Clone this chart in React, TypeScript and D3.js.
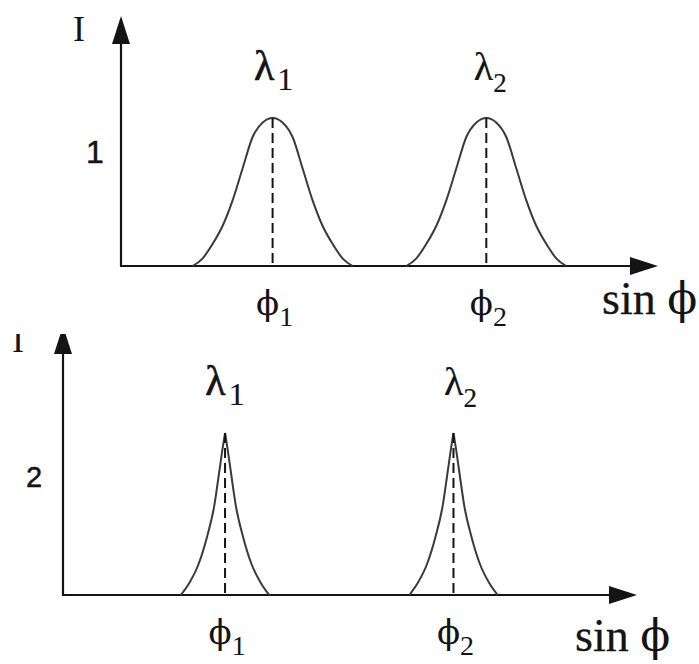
import React from "react";
import * as d3 from "d3";

const W = 699;
const H = 664;

// Spectral lines λ1, λ2 and their diffraction directions φ1, φ2 on the sin φ axis (arbitrary units)
const lineIndex = ["1", "2"];
const sinPhi = [0.415, 1.0];
const sinPhiMax = 1.47;

// Peak intensity of each panel and the label written on its intensity axis
const peakIntensity = [1, 2];
const intensityLabels = ["1", "2"];

// Left flank of a peak: [offset from line centre in sin φ units, fraction of peak intensity]
const broadFlank: [number, number][] = [
  [-0.219, 0.0],
  [-0.192, 0.05],
  [-0.164, 0.15],
  [-0.137, 0.27],
  [-0.11, 0.44],
  [-0.082, 0.66],
  [-0.055, 0.87],
  [-0.027, 0.97],
  [0, 1],
];
const narrowFlank: [number, number][] = [
  [-0.113, 0.0],
  [-0.092, 0.072],
  [-0.067, 0.196],
  [-0.046, 0.36],
  [-0.028, 0.546],
  [-0.0153, 0.753],
  [-0.0068, 0.897],
  [0, 1],
];
const flanks = [broadFlank, narrowFlank];

// Panel geometry
const panels = [
  {
    x0: 121, x1: 658, y0: 266, yTip: 16, yPeak: 118, clipTop: 0,
    axisLabel: { x: 79, y: 41 }, tickLabel: { x: 95, y: 163 },
    titleDx: [1, 4], sinLabel: { x: 602, y: 314 }, smoothTop: true,
  },
  {
    x0: 63, x1: 637, y0: 595, yTip: 326, yPeak: 433, clipTop: 334,
    axisLabel: { x: 18, y: 352 }, tickLabel: { x: 34, y: 487 },
    titleDx: [0, 7], sinLabel: { x: 575, y: 651 }, smoothTop: false,
  },
];

const SERIF = "'Liberation Serif', 'Times New Roman', serif";
const GREEK = "'DejaVu Serif', 'Liberation Serif', serif";
const SANS = "'Liberation Sans', Arial, sans-serif";
const INK = "#141414";
const CURVE = "#3a3a3a";
const PHI = "\u03d5";

function Panel({ idx }: { idx: number }) {
  const p = panels[idx];
  const x = d3.scaleLinear().domain([0, sinPhiMax]).range([p.x0, p.x1]);
  const y = d3.scaleLinear().domain([0, peakIntensity[idx]]).range([p.y0, p.yPeak]);
  const flank = flanks[idx];
  const peak = peakIntensity[idx];

  const line = d3
    .line<[number, number]>()
    .x((d) => x(d[0]))
    .y((d) => y(d[1] * peak))
    .curve(d3.curveMonotoneX);

  const clipId = `clip-${idx}`;
  const ah = 28; // arrowhead length
  const aw = 9; // arrowhead half width

  return (
    <g clipPath={p.clipTop ? `url(#${clipId})` : undefined}>
      {p.clipTop ? (
        <defs>
          <clipPath id={clipId}>
            <rect x={0} y={p.clipTop} width={W} height={H - p.clipTop} />
          </clipPath>
        </defs>
      ) : null}

      {/* axes */}
      <line x1={p.x0} y1={p.y0} x2={p.x0} y2={p.yTip + ah - 2} stroke={INK} strokeWidth={2.2} />
      <polygon
        points={`${p.x0},${p.yTip} ${p.x0 - aw},${p.yTip + ah} ${p.x0 + aw},${p.yTip + ah}`}
        fill={INK}
      />
      <line x1={p.x0 - 1} y1={p.y0} x2={p.x1 - ah + 2} y2={p.y0} stroke={INK} strokeWidth={2.2} />
      <polygon
        points={`${p.x1},${p.y0} ${p.x1 - ah},${p.y0 - aw} ${p.x1 - ah},${p.y0 + aw}`}
        fill={INK}
      />

      {/* peaks */}
      {sinPhi.map((c, i) => {
        const left = flank.map(([o, v]) => [c + o, v] as [number, number]);
        const right = flank
          .slice()
          .reverse()
          .map(([o, v]) => [c - o, v] as [number, number]);
        const d = p.smoothTop
          ? line(left.concat(right.slice(1)))
          : `${line(left)} ${line(right)}`;
        return (
          <g key={i}>
            <path d={d || ""} fill="none" stroke={CURVE} strokeWidth={2} />
            <line
              x1={x(c)}
              y1={y(peak)}
              x2={x(c)}
              y2={p.y0}
              stroke={INK}
              strokeWidth={2}
              strokeDasharray="10 5"
            />
            <text
              x={x(c) + p.titleDx[i]}
              y={y(peak) - 38}
              textAnchor="middle"
              fontFamily={SERIF}
              fontSize={i === 0 ? 42 : 40}
              fill={INK}
              stroke={INK}
              strokeWidth={i === 0 ? 0.6 : 0.2}
            >
              λ
              <tspan
                fontSize={i === 0 ? 32 : 27}
                dx={i === 0 ? 3 : 0}
                dy={i === 0 ? 10 : 12}
                strokeWidth={0.2}
              >
                {lineIndex[i]}
              </tspan>
            </text>
            <text
              x={x(c) + 2}
              y={p.y0 + 49}
              textAnchor="middle"
              fontFamily={SERIF}
              fill={INK}
            >
              <tspan fontFamily={GREEK} fontSize={34}>
                {PHI}
              </tspan>
              <tspan fontSize={28} dy={11}>
                {lineIndex[i]}
              </tspan>
            </text>
          </g>
        );
      })}

      {/* axis labels */}
      <text
        x={p.axisLabel.x}
        y={p.axisLabel.y}
        textAnchor="middle"
        fontFamily={SERIF}
        fontSize={36}
        fill={INK}
      >
        I
      </text>
      <text
        x={p.tickLabel.x}
        y={p.tickLabel.y}
        textAnchor="middle"
        fontFamily={SANS}
        fontSize={idx === 0 ? 32 : 29}
        fill={INK}
        stroke={INK}
        strokeWidth={0.5}
      >
        {intensityLabels[idx]}
      </text>
      <text
        x={p.sinLabel.x}
        y={p.sinLabel.y}
        fontFamily={SERIF}
        fontSize={46}
        fill={INK}
        stroke={INK}
        strokeWidth={0.3}
      >
        sin{" "}
        <tspan fontFamily={GREEK} fontSize={44} strokeWidth={0}>
          {PHI}
        </tspan>
      </text>
    </g>
  );
}

export default function App() {
  return (
    <svg
      width={W}
      height={H}
      viewBox={`0 0 ${W} ${H}`}
      style={{ position: "absolute", left: 0, top: 0, background: "#fff" }}
    >
      <rect width={W} height={H} fill="#fff" />
      <Panel idx={0} />
      <Panel idx={1} />
    </svg>
  );
}
